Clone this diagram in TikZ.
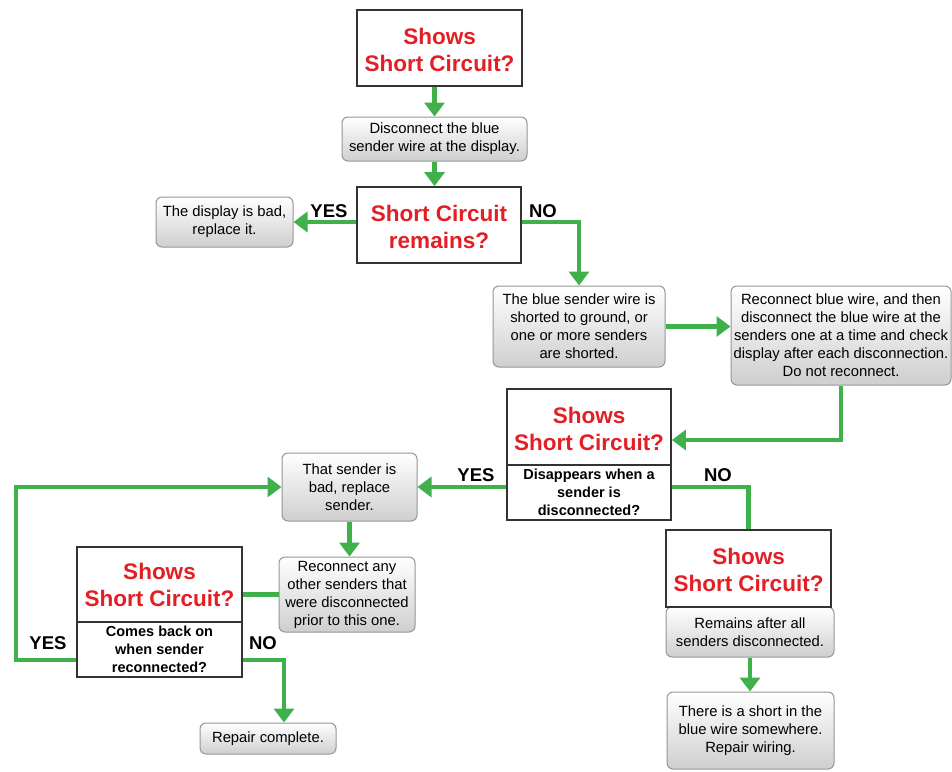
\documentclass[tikz,border=0pt]{standalone}
\usepackage{fontspec}
\setmainfont{Liberation Sans}
\usetikzlibrary{arrows.meta}
\definecolor{fgreen}{RGB}{64,176,74}
\definecolor{fred}{RGB}{227,30,36}
\definecolor{bdr}{RGB}{51,51,51}
\definecolor{gbdr}{RGB}{150,150,150}
\newcommand\qstrutx{\rule{0pt}{20pt}}
\begin{document}
\begin{tikzpicture}[x=1pt,y=-1pt,
  qbox/.style={draw=bdr,line width=1.8pt,fill=white,align=center,text=fred,font=\fontsize{22.5}{27}\selectfont\bfseries,inner sep=2pt},
  subbox/.style={draw=bdr,line width=1.8pt,fill=white,align=center,font=\fontsize{14.5}{18}\selectfont\bfseries,inner sep=2pt},
  gbox/.style={draw=gbdr,line width=1pt,rounded corners=6pt,top color=white,bottom color=black!19,align=center,font=\fontsize{14.8}{18}\selectfont,inner sep=2pt},
  conn/.style={draw=fgreen,line width=4.5pt},
  arr/.style={conn,-{Triangle[width=20pt,length=14pt]}},
  lbl/.style={font=\fontsize{18.5}{22}\selectfont\bfseries,inner sep=0pt}
]
\useasboundingbox[fill=white] (0,0) rectangle (952,771);

% nodes
\node[qbox,minimum width=165pt,minimum height=76pt] (q1) at (439.5,48) {\qstrutx Shows\\Short Circuit?};
\node[gbox,minimum width=185pt,minimum height=44pt] (disc) at (434.5,139) {Disconnect the blue\\sender wire at the display.};
\node[qbox,minimum width=164pt,minimum height=76pt] (q2) at (439,225) {\qstrutx Short Circuit\\remains?};
\node[gbox,minimum width=137pt,minimum height=50pt] (bad) at (224.5,222) {The display is bad,\\replace it.};
\node[gbox,minimum width=172pt,minimum height=81pt] (blue) at (579,326.5) {The blue sender wire is\\shorted to ground, or\\one or more senders\\are shorted.};
\node[gbox,minimum width=220pt,minimum height=99pt] (recon) at (841,335.5) {Reconnect blue wire, and then\\disconnect the blue wire at the\\senders one at a time and check\\display after each disconnection.\\Do not reconnect.};

\node[qbox,minimum width=164pt,minimum height=76pt] (q3t) at (589,427) {\qstrutx Shows\\Short Circuit?};
\node[subbox,minimum width=164pt,minimum height=55pt] (q3b) at (589,492.5) {Disappears when a\\sender is\\disconnected?};

\node[gbox,minimum width=135pt,minimum height=68pt] (thatbad) at (349.5,487) {That sender is\\bad, replace\\sender.};
\node[gbox,minimum width=136pt,minimum height=75pt] (reconany) at (347,594.5) {Reconnect any\\other senders that\\were disconnected\\prior to this one.};

\node[qbox,minimum width=165pt,minimum height=75pt] (q5t) at (159.5,584.5) {Shows\\Short Circuit?};
\node[subbox,minimum width=165pt,minimum height=55pt] (q5b) at (159.5,649.5) {Comes back on\\when sender\\reconnected?};
\node[gbox,minimum width=136pt,minimum height=31pt] (repair) at (268,738.5) {Repair complete.};

\node[gbox,minimum width=168pt,minimum height=50pt] (remains) at (750,632) {Remains after all\\senders disconnected.};
\node[qbox,minimum width=165pt,minimum height=77pt] (q4) at (748.5,568.5) {\qstrutx Shows\\Short Circuit?};
\node[gbox,minimum width=167pt,minimum height=77pt] (short) at (750.5,730.5) {There is a short in the\\blue wire somewhere.\\Repair wiring.};

% labels
\node[lbl] (yes1) at (329,211) {YES};
\node[lbl] (no1) at (543,211) {NO};
\node[lbl] (yes2) at (476,475) {YES};
\node[lbl] (no2) at (718,475) {NO};
\node[lbl] (yes3) at (48,643) {YES};
\node[lbl] (no3) at (263,643) {NO};

% helper coordinates
\coordinate (r1) at (840,440);
\coordinate (yl) at (16,660);
\coordinate (nl) at (284,660);

% connectors
\draw[arr] (disc.north |- q1.south) -- (disc.north);
\draw[arr] (disc.south) -- (disc.south |- q2.north);
\draw[arr] (q2.west |- bad.east) -- (bad.east);
\draw[arr] (q2.east |- bad.east) -| (blue.north);
\draw[arr] (blue.east) -- (blue.east -| recon.west);
\draw[arr] (recon.south) |- (r1 -| q3t.east);
\draw[arr] (q3b.west |- thatbad.east) -- (thatbad.east);
\draw[conn] (q3b.east |- thatbad.east) -| (q4.north);
\draw[arr] (thatbad.south) -- (thatbad.south |- reconany.north);
\draw[conn] (reconany.west) -- (reconany.west -| q5t.east);
\draw[arr] (q5b.west |- yl) -- (yl) |- (thatbad.west);
\draw[arr] (q5b.east |- nl) -- (nl) -- (nl |- repair.north);
\draw[arr] (remains.south) -- (remains.south |- short.north);
\end{tikzpicture}
\end{document}
